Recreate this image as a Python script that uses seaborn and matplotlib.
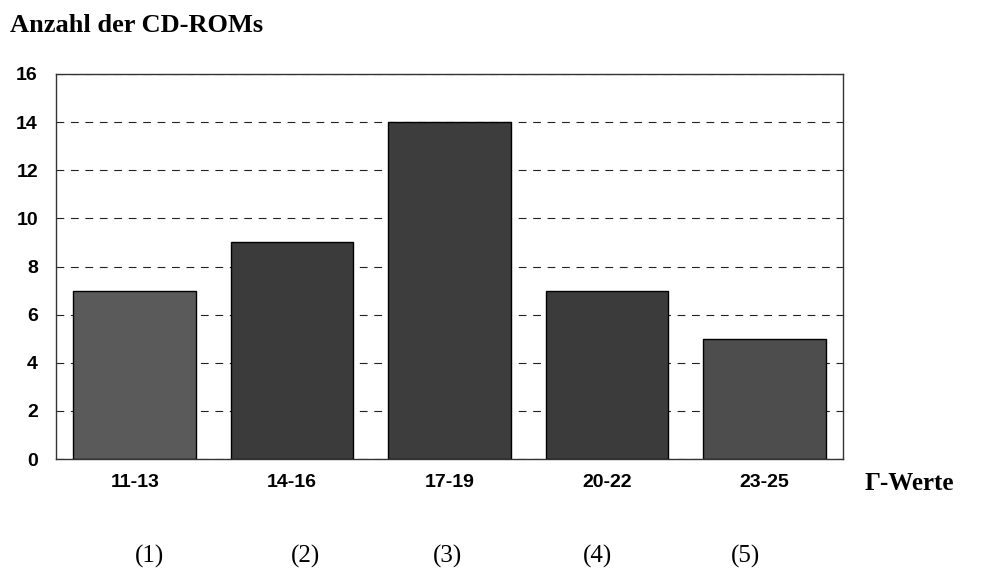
import pandas as pd
import matplotlib
matplotlib.use("Agg")
import matplotlib.pyplot as plt
import seaborn as sns

categories = ["11-13", "14-16", "17-19", "20-22", "23-25"]
counts = [7, 9, 14, 7, 5]
group_labels = ["(1)", "(2)", "(3)", "(4)", "(5)"]
bar_colors = ["#5a5a5a", "#3b3b3b", "#3d3d3d", "#3b3b3b", "#4d4d4d"]
y_ticks = [0, 2, 4, 6, 8, 10, 12, 14, 16]

df = pd.DataFrame({"gruppe": categories, "anzahl": counts})

sns.set_theme(style="white")
plt.rcParams["font.family"] = ["Liberation Sans", "DejaVu Sans"]

fig = plt.figure(figsize=(9.81, 5.70), dpi=100)
ax = fig.add_axes([56 / 981, 1 - 459 / 570, 787 / 981, 385 / 570])

# gestrichelte Hilfslinien hinter den Balken
ax.yaxis.grid(True, color="#222222", linestyle=(0, (7, 6)), linewidth=0.8)
ax.set_axisbelow(True)

sns.barplot(data=df, x="gruppe", y="anzahl", hue="gruppe",
            palette=bar_colors, width=0.78, edgecolor="black",
            linewidth=1.0, saturation=1, legend=False, ax=ax)

ax.set_ylim(0, 16)
ax.set_yticks(y_ticks)
ax.set_xlim(-0.5, 4.5)
ax.set_xlabel("")
ax.set_ylabel("")
ax.tick_params(axis="y", length=0, pad=13, labelsize=14)
ax.tick_params(axis="x", length=0, pad=11, labelsize=14)
for lab in ax.get_yticklabels() + ax.get_xticklabels():
    lab.set_fontweight("bold")
    lab.set_color("black")

for side in ["left", "right", "top", "bottom"]:
    ax.spines[side].set_visible(True)
    ax.spines[side].set_color("#333333")
    ax.spines[side].set_linewidth(1.0)

serif = ["Liberation Serif", "DejaVu Serif"]
fig.text(10 / 981, 1 - 25 / 570, "Anzahl der CD-ROMs", family=serif,
         fontweight="bold", fontsize=19, ha="left", va="center", color="black")
fig.text(865 / 981, 1 - 484 / 570, "\u0393-Werte", family=serif,
         fontweight="bold", fontsize=18, ha="left", va="center", color="black")

group_x = [150, 305, 447, 597, 746]
for gx, gl in zip(group_x, group_labels):
    fig.text(gx / 981, 1 - 556 / 570, gl, family=serif,
             fontsize=18, ha="center", va="center", color="black")

fig.savefig("out.png", dpi=100, facecolor="white")
plt.close(fig)
